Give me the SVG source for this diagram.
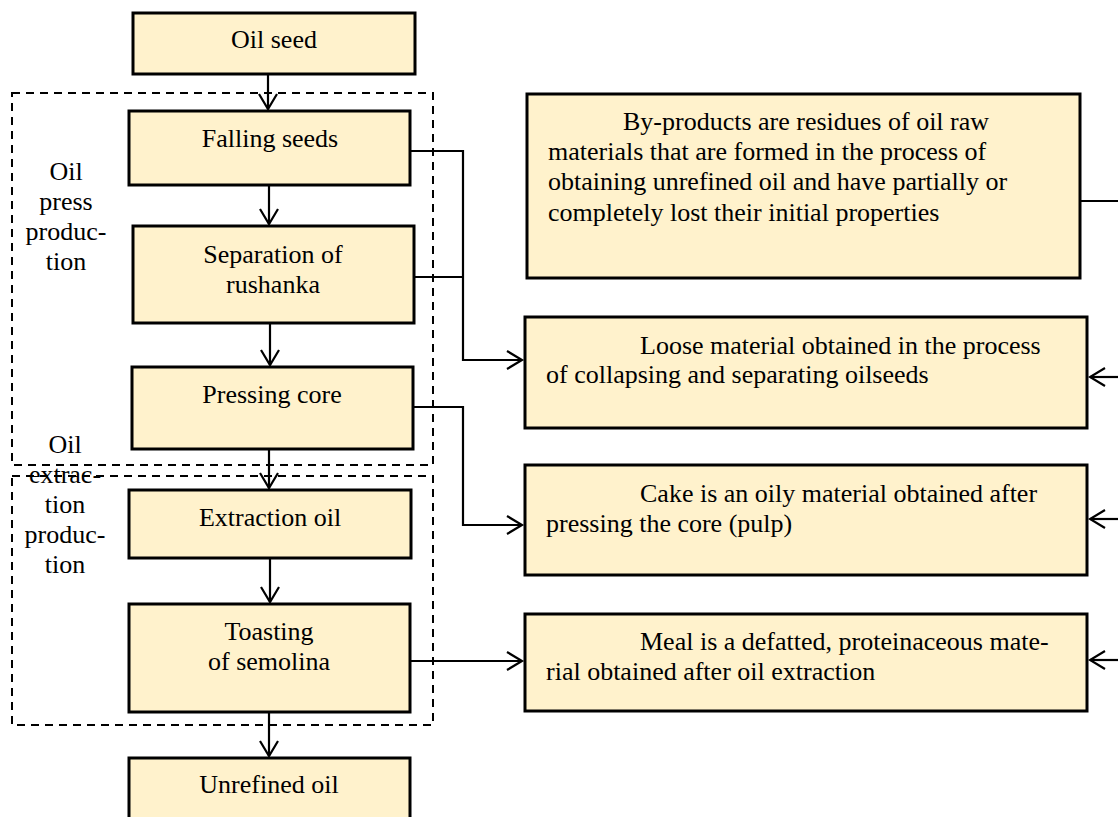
<svg xmlns="http://www.w3.org/2000/svg" width="1118" height="817" viewBox="0 0 1118 817">
<style>
.box{fill:#FFF2CC;stroke:#000;stroke-width:3}
.dash{fill:none;stroke:#000;stroke-width:2;stroke-dasharray:8 6}
.ln{fill:none;stroke:#000;stroke-width:2.2}
.arr{marker-end:url(#ah)}
text{font-family:"Liberation Serif","Times New Roman",serif;font-size:26px;fill:#000}
.c{text-anchor:middle}
</style>
<defs>
<marker id="ah" markerUnits="userSpaceOnUse" markerWidth="20" markerHeight="22" viewBox="-17 -11 19 22" refX="0" refY="0" orient="auto">
<path d="M-15,-9 L0,0 L-15,9" fill="none" stroke="#000" stroke-width="2.2"/>
</marker>
</defs>
<rect x="0" y="0" width="1118" height="817" fill="#fff"/>

<g id="stage-press">
<rect class="dash" x="12" y="93" width="421" height="372"/>
<text class="c" x="66" y="180">Oil</text>
<text class="c" x="66" y="210">press</text>
<text class="c" x="66" y="240">produc-</text>
<text class="c" x="66" y="270">tion</text>
</g>
<g id="stage-extraction">
<rect class="dash" x="12" y="476" width="421" height="249"/>
<text class="c" x="65" y="453">Oil</text>
<text class="c" x="65" y="483">extrac-</text>
<text class="c" x="65" y="513">tion</text>
<text class="c" x="65" y="543">produc-</text>
<text class="c" x="65" y="573">tion</text>
</g>

<g id="oil-seed"><rect class="box" x="133" y="13" width="282" height="61"/><text class="c" x="274" y="48">Oil seed</text></g>
<g id="falling-seeds"><rect class="box" x="129" y="111" width="281" height="74"/><text class="c" x="270" y="147">Falling seeds</text></g>
<g id="separation"><rect class="box" x="133" y="226" width="281" height="97"/><text class="c" x="273" y="263">Separation of</text><text class="c" x="273" y="293">rushanka</text></g>
<g id="pressing-core"><rect class="box" x="132" y="367" width="281" height="82"/><text class="c" x="272" y="403">Pressing core</text></g>
<g id="extraction-oil"><rect class="box" x="129" y="490" width="282" height="68"/><text class="c" x="270" y="526">Extraction oil</text></g>
<g id="toasting"><rect class="box" x="129" y="604" width="281" height="108"/><text class="c" x="269" y="640">Toasting</text><text class="c" x="269" y="670">of semolina</text></g>
<g id="unrefined-oil"><rect class="box" x="129" y="758" width="281" height="80"/><text class="c" x="269" y="793">Unrefined oil</text></g>

<g id="by-products"><rect class="box" x="527" y="94" width="553" height="184"/>
<text x="623" y="130">By-products are residues of oil raw</text>
<text x="548" y="160">materials that are formed in the process of</text>
<text x="548" y="190">obtaining unrefined oil and have partially or</text>
<text x="548" y="221">completely lost their initial properties</text>
</g>
<g id="loose-material"><rect class="box" x="525" y="317" width="562" height="111"/>
<text x="640" y="354">Loose material obtained in the process</text>
<text x="546" y="383">of collapsing and separating oilseeds</text>
</g>
<g id="cake"><rect class="box" x="525" y="465" width="562" height="110"/>
<text x="640" y="502">Cake is an oily material obtained after</text>
<text x="546" y="532">pressing the core (pulp)</text>
</g>
<g id="meal"><rect class="box" x="525" y="614" width="562" height="97"/>
<text x="640" y="650">Meal is a defatted, proteinaceous mate-</text>
<text x="546" y="680">rial obtained after oil extraction</text>
</g>

<g id="connectors">
<line class="ln arr" x1="268" y1="74" x2="268" y2="109"/>
<line class="ln arr" x1="269" y1="185" x2="269" y2="224"/>
<line class="ln arr" x1="270" y1="323" x2="270" y2="365"/>
<line class="ln arr" x1="269" y1="449" x2="269" y2="488"/>
<line class="ln arr" x1="270" y1="558" x2="270" y2="602"/>
<line class="ln arr" x1="269" y1="712" x2="269" y2="756"/>
<polyline class="ln arr" points="410,151 463,151 463,360 522,360"/>
<line class="ln" x1="414" y1="277" x2="463" y2="277"/>
<polyline class="ln arr" points="413,407 463,407 463,525 522,525"/>
<line class="ln arr" x1="410" y1="661" x2="522" y2="661"/>
<line class="ln" x1="1080" y1="201" x2="1118" y2="201"/>
<line class="ln arr" x1="1118" y1="377" x2="1090" y2="377"/>
<line class="ln arr" x1="1118" y1="519" x2="1090" y2="519"/>
<line class="ln arr" x1="1118" y1="660" x2="1090" y2="660"/>
</g>
</svg>
